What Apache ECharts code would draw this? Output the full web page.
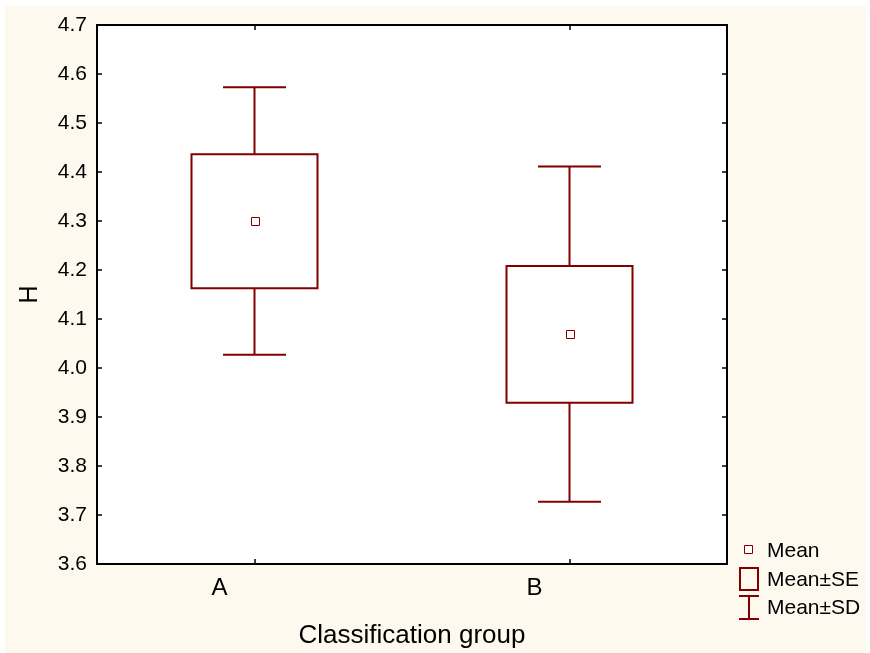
<!DOCTYPE html>
<html>
<head>
<meta charset="utf-8">
<script src="https://cdn.jsdelivr.net/npm/echarts@6/dist/echarts.min.js"></script>
<style>
  html, body { margin: 0; padding: 0; background: #ffffff; }
  #chart { width: 870px; height: 653px; }
</style>
</head>
<body>
<div id="chart"></div>
<script>
// Group summary statistics for H
const categories = ['A', 'B'];
const means   = [4.300, 4.070];
const seLower = [4.163, 3.929];
const seUpper = [4.436, 4.208];
const sdLower = [4.027, 3.727];
const sdUpper = [4.573, 4.411];
const yTicks  = { min: 3.6, max: 4.7, step: 0.1 };

const RED = '#800000';
const FONT = 'Liberation Sans, Arial, sans-serif';

const rows = categories.map((c, i) => [i, means[i], seLower[i], seUpper[i], sdLower[i], sdUpper[i]]);

function renderBox(params, api) {
  const i = api.value(0);
  const band = api.size([1, 0])[0];
  const boxW = band * 0.4;
  const capW = band * 0.2;
  const pMean = api.coord([i, api.value(1)]);
  const pSeLo = api.coord([i, api.value(2)]);
  const pSeHi = api.coord([i, api.value(3)]);
  const pSdLo = api.coord([i, api.value(4)]);
  const pSdHi = api.coord([i, api.value(5)]);
  const x = pMean[0];
  const ls = { stroke: RED, lineWidth: 2, fill: null };
  // small mean marker snapped to the pixel grid so its 1px outline stays crisp
  const mx = Math.round(x - 4) + 0.5;
  const my = Math.round(pMean[1] - 4) + 0.5;
  return {
    type: 'group',
    children: [
      { type: 'line', shape: { x1: x, y1: pSdHi[1], x2: x, y2: pSeHi[1] }, style: ls },
      { type: 'line', shape: { x1: x, y1: pSeLo[1], x2: x, y2: pSdLo[1] }, style: ls },
      { type: 'line', shape: { x1: x - capW / 2, y1: pSdHi[1], x2: x + capW / 2, y2: pSdHi[1] }, style: ls },
      { type: 'line', shape: { x1: x - capW / 2, y1: pSdLo[1], x2: x + capW / 2, y2: pSdLo[1] }, style: ls },
      { type: 'rect', shape: { x: x - boxW / 2, y: pSeHi[1], width: boxW, height: pSeLo[1] - pSeHi[1] },
        style: { stroke: RED, lineWidth: 2, fill: 'rgba(0,0,0,0)' } },
      { type: 'rect', shape: { x: mx, y: my, width: 8, height: 8 },
        style: { stroke: RED, lineWidth: 1, fill: '#ffffff' } }
    ]
  };
}

const chart = echarts.init(document.getElementById('chart'), null, { renderer: 'canvas' });

const axisLineStyle = { show: true, lineStyle: { color: '#000', width: 2 } };
const innerTick = { show: true, inside: true, length: 5, lineStyle: { color: '#000', width: 1.5 } };

chart.setOption({
  animation: false,
  backgroundColor: '#ffffff',
  graphic: [
    { type: 'rect', z: -10, shape: { x: 5, y: 6, width: 861, height: 647 }, style: { fill: '#fdf9ef' } },
    { type: 'rect', z: -9, shape: { x: 97, y: 25, width: 630, height: 539 }, style: { fill: '#ffffff' } },
    // legend
    { type: 'rect', shape: { x: 744.5, y: 545.5, width: 8, height: 8 }, style: { stroke: RED, lineWidth: 1, fill: '#fff' } },
    { type: 'rect', shape: { x: 740, y: 568, width: 18, height: 22 }, style: { stroke: RED, lineWidth: 2, fill: null } },
    { type: 'line', shape: { x1: 749, y1: 596, x2: 749, y2: 619 }, style: { stroke: RED, lineWidth: 2 } },
    { type: 'line', shape: { x1: 739, y1: 596, x2: 759, y2: 596 }, style: { stroke: RED, lineWidth: 2 } },
    { type: 'line', shape: { x1: 739, y1: 619, x2: 759, y2: 619 }, style: { stroke: RED, lineWidth: 2 } },
    { type: 'text', x: 767, y: 551, style: { text: 'Mean', font: '21px ' + FONT, fill: '#000', verticalAlign: 'middle' } },
    { type: 'text', x: 767, y: 580, style: { text: 'Mean±SE', font: '21px ' + FONT, fill: '#000', verticalAlign: 'middle' } },
    { type: 'text', x: 767, y: 608, style: { text: 'Mean±SD', font: '21px ' + FONT, fill: '#000', verticalAlign: 'middle' } }
  ],
  grid: { left: 97, top: 25, right: 143, bottom: 89, containLabel: false, outerBoundsMode: 'none' },
  xAxis: [
    {
      type: 'category', data: categories, position: 'bottom',
      axisLine: axisLineStyle,
      axisTick: Object.assign({ alignWithLabel: true }, innerTick),
      axisLabel: { color: '#000', fontSize: 24, fontFamily: FONT, margin: 12, padding: [0, 70, 0, 0] },
      name: 'Classification group', nameLocation: 'middle', nameGap: 59,
      nameTextStyle: { color: '#000', fontSize: 26, fontFamily: FONT },
      splitLine: { show: false }
    },
    {
      type: 'category', data: categories, position: 'top',
      axisLine: axisLineStyle,
      axisTick: Object.assign({ alignWithLabel: true }, innerTick),
      axisLabel: { show: false }, splitLine: { show: false }
    }
  ],
  yAxis: [
    {
      type: 'value', min: yTicks.min, max: yTicks.max, interval: yTicks.step, position: 'left',
      axisLine: axisLineStyle, axisTick: innerTick,
      axisLabel: { color: '#000', fontSize: 21, fontFamily: FONT, margin: 10, formatter: v => v.toFixed(1) },
      name: 'H', nameLocation: 'middle', nameGap: 54, nameRotate: 90,
      nameTextStyle: { color: '#000', fontSize: 25, fontFamily: FONT },
      splitLine: { show: false }
    },
    {
      type: 'value', min: yTicks.min, max: yTicks.max, interval: yTicks.step, position: 'right',
      axisLine: axisLineStyle, axisTick: innerTick,
      axisLabel: { show: false }, splitLine: { show: false }
    }
  ],
  series: [{
    type: 'custom',
    renderItem: renderBox,
    encode: { x: 0, y: [1, 2, 3, 4, 5] },
    data: rows,
    clip: false
  }]
});
</script>
</body>
</html>
